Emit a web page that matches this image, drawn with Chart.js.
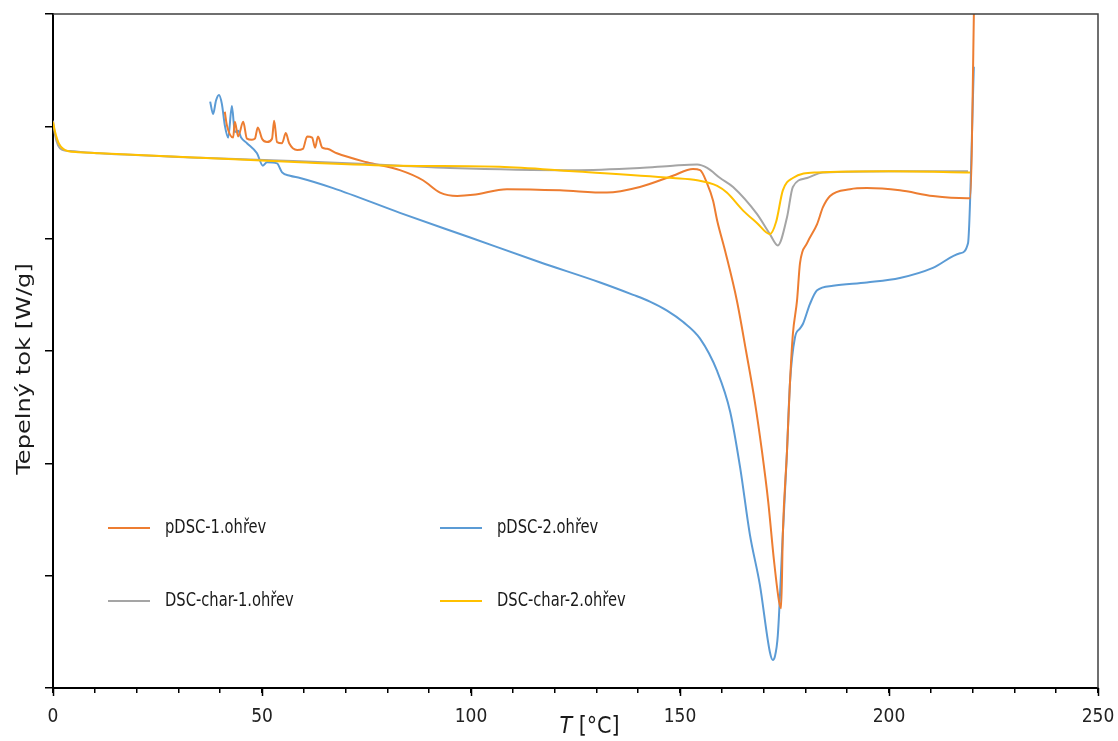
<!DOCTYPE html>
<html>
<head>
<meta charset="utf-8">
<script src="https://cdn.jsdelivr.net/npm/chart.js@4.4.0/dist/chart.umd.min.js"></script>
<style>
  body { margin: 0; background: #fff; }
  #wrap { width: 1118px; height: 741px; position: relative; }
</style>
</head>
<body>
<div id="wrap"><canvas id="dsc"></canvas></div>
<script>
// series labels
const names = ['pDSC-1.ohřev', 'pDSC-2.ohřev', 'DSC-char-1.ohřev', 'DSC-char-2.ohřev'];

// pDSC-1 (orange): temperature and heat flow (arbitrary units, axis has no labels)
const pdsc1T = [41.1, 41.6, 43.1, 43.5, 44.3, 45.5, 46.4, 47.6, 48.3, 49.0, 50.0, 51.2, 52.4, 52.9, 53.6, 54.8, 55.7, 56.5, 58.4, 59.8,
  60.8, 62.0, 62.7, 63.4, 64.4, 65.6, 67.9, 75.1, 83.0, 88.5, 92.6, 96.7, 100.5, 108.6, 121.3, 132.5, 140.4, 148.3, 153.1, 154.8,
  156.5, 157.9, 158.9, 160.8, 163.6, 165.8, 167.9, 169.6, 171.1, 172.5, 173.7, 174.2, 174.6, 175.6, 176.3, 177.0, 178.0, 178.7, 180.4, 182.8,
  184.2, 185.9, 190.7, 194.7, 202.6, 210.5, 218.7, 219.4, 220.3, 220.4];
const pdsc1Q = [5.13, 5.01, 4.90, 5.04, 4.91, 5.04, 4.89, 4.88, 4.89, 4.99, 4.89, 4.86, 4.89, 5.05, 4.86, 4.85, 4.94, 4.85, 4.79, 4.80,
  4.91, 4.90, 4.81, 4.91, 4.81, 4.80, 4.76, 4.68, 4.61, 4.52, 4.41, 4.38, 4.39, 4.44, 4.43, 4.41, 4.46, 4.56, 4.62, 4.61,
  4.49, 4.34, 4.16, 3.89, 3.45, 3.00, 2.55, 2.11, 1.66, 1.13, 0.77, 0.71, 1.37, 2.11, 2.71, 3.15, 3.45, 3.78, 3.96, 4.13,
  4.28, 4.38, 4.44, 4.45, 4.43, 4.38, 4.36, 4.36, 5.99, 6.30];

// pDSC-2 (blue)
const pdsc2T = [37.6, 38.3, 39.0, 39.7, 40.4, 41.1, 41.9, 42.8, 43.5, 44.3, 45.0, 46.4, 48.8, 50.2, 51.2, 53.6, 54.8, 56.7, 59.1, 67.0,
  83.0, 99.8, 116.5, 130.9, 138.8, 142.8, 146.9, 150.7, 154.8, 158.9, 162.0, 164.4, 166.7, 169.1, 171.5, 172.2, 172.7, 173.4, 174.6, 175.6,
  176.3, 177.5, 178.7, 179.4, 181.1, 182.8, 186.6, 194.7, 202.6, 210.5, 217.0, 218.9, 220.3];
const pdsc2Q = [5.22, 5.11, 5.23, 5.28, 5.20, 5.01, 4.90, 5.18, 4.95, 4.96, 4.90, 4.85, 4.76, 4.65, 4.68, 4.67, 4.59, 4.56, 4.54, 4.45,
  4.23, 4.01, 3.79, 3.61, 3.50, 3.44, 3.36, 3.26, 3.11, 2.82, 2.46, 1.96, 1.37, 0.92, 0.32, 0.25, 0.28, 0.47, 1.37, 2.11,
  2.71, 3.12, 3.20, 3.24, 3.42, 3.54, 3.58, 3.61, 3.65, 3.74, 3.87, 3.96, 5.53];

// DSC-char-1 (grey)
const char1T = [0, 0.5, 1.2, 2.2, 4.1, 11.2, 35.2, 59.1, 83.0, 95.0, 124.4, 140.4, 148.3, 154.1, 156.5, 159.6, 162.7, 168.4, 171.5, 173.4,
  175.6, 177.0, 180.4, 184.2, 202.6, 218.9];
const char1Q = [5.05, 4.92, 4.83, 4.79, 4.78, 4.76, 4.72, 4.69, 4.65, 4.63, 4.61, 4.63, 4.65, 4.66, 4.63, 4.54, 4.46, 4.22, 4.04, 3.94,
  4.19, 4.46, 4.54, 4.59, 4.60, 4.60];

// DSC-char-2 (yellow)
const char2T = [0, 0.5, 1.5, 3.5, 6.0, 11.2, 35.2, 59.1, 83.0, 106.9, 124.4, 148.3, 154.1, 158.9, 161.2, 165.1, 168.4, 171.5, 173.0, 174.6,
  177.0, 182.7, 200.0, 219.4];
const char2Q = [5.04, 4.95, 4.84, 4.78, 4.77, 4.76, 4.72, 4.68, 4.65, 4.64, 4.60, 4.54, 4.52, 4.47, 4.41, 4.25, 4.14, 4.04, 4.15, 4.43,
  4.54, 4.59, 4.60, 4.59];

// temperatures that carry a label (and a longer tick)
const majorT = [0, 50, 100, 150, 200, 250];

const colors = ['#ED7D31', '#5B9BD5', '#A5A5A5', '#FFC000'];

function pts(xs, ys) {
  return xs.map((x, i) => ({ x: x, y: ys[i] }));
}

const series = [pts(pdsc1T, pdsc1Q), pts(pdsc2T, pdsc2Q), pts(char1T, char1Q), pts(char2T, char2Q)];
const drawOrder = [2, 3, 1, 0];

const narrow = '"Liberation Sans Narrow", "DejaVu Sans Condensed", "Liberation Sans", sans-serif';

// frame, longer major ticks, legend inside the plot and the axis titles
const extras = {
  id: 'extras',
  afterDraw(chart) {
    const { ctx, chartArea: a } = chart;
    const xs = chart.scales.x;
    ctx.save();
    ctx.strokeStyle = '#404040';
    ctx.lineWidth = 1.5;
    ctx.beginPath();
    ctx.moveTo(a.left, a.top);
    ctx.lineTo(a.right, a.top);
    ctx.lineTo(a.right, a.bottom);
    ctx.stroke();

    ctx.strokeStyle = '#000';
    ctx.lineWidth = 1.5;
    majorT.forEach(v => {
      const px = Math.round(xs.getPixelForValue(v)) + 0.5;
      ctx.beginPath();
      ctx.moveTo(px, a.bottom);
      ctx.lineTo(px, a.bottom + 8);
      ctx.stroke();
    });

    const spots = [[108, 528], [440, 528], [108, 601], [440, 601]];
    ctx.textBaseline = 'middle';
    ctx.textAlign = 'left';
    chart.data.datasets.forEach((ds, i) => {
      const [x, y] = spots[i];
      ctx.strokeStyle = ds.borderColor;
      ctx.lineWidth = 2;
      ctx.beginPath();
      ctx.moveTo(x, y);
      ctx.lineTo(x + 42, y);
      ctx.stroke();
      ctx.save();
      ctx.translate(x + 57, y);
      ctx.scale(0.86, 1);
      ctx.font = '19px ' + narrow;
      ctx.fillStyle = '#1a1a1a';
      ctx.fillText(ds.label, 0, 0);
      ctx.restore();
    });

    // y title, stretched along the text
    ctx.save();
    ctx.translate(25, (a.top + a.bottom) / 2 + 18);
    ctx.rotate(-Math.PI / 2);
    ctx.scale(1.27, 1);
    ctx.font = '19px "DejaVu Sans", sans-serif';
    ctx.textAlign = 'center';
    ctx.fillStyle = '#1a1a1a';
    ctx.fillText('Tepelný tok [W/g]', 0, 0);
    ctx.restore();

    // x title with italic T
    ctx.fillStyle = '#1a1a1a';
    ctx.font = 'italic 23px ' + narrow;
    const t = 'T';
    const rest = ' [°C]';
    const w1 = ctx.measureText(t).width;
    ctx.font = '23px ' + narrow;
    const w2 = ctx.measureText(rest).width;
    const x0 = (a.left + a.right) / 2 + 14 - (w1 + w2) / 2;
    ctx.font = 'italic 23px ' + narrow;
    ctx.fillText(t, x0, 727);
    ctx.font = '23px ' + narrow;
    ctx.fillText(rest, x0 + w1, 727);
    ctx.restore();
  }
};

new Chart(document.getElementById('dsc'), {
  type: 'scatter',
  data: {
    datasets: series.map((d, i) => ({
      label: names[i],
      data: d,
      showLine: true,
      borderColor: colors[i],
      backgroundColor: colors[i],
      borderWidth: 2,
      pointRadius: 0,
      cubicInterpolationMode: 'monotone',
      order: drawOrder[i]
    }))
  },
  options: {
    responsive: true,
    maintainAspectRatio: false,
    animation: false,
    layout: { padding: { top: 14, right: 20, left: 0, bottom: 0 } },
    plugins: {
      legend: { display: false },
      tooltip: { enabled: false }
    },
    scales: {
      x: {
        type: 'linear',
        min: 0,
        max: 250,
        afterFit(scale) {
          scale.height = 53;
          scale.paddingLeft = 0;
          scale.paddingRight = 0;
        },
        border: { color: '#000', width: 2 },
        grid: { drawOnChartArea: false, drawTicks: true, tickLength: 5, color: '#000', lineWidth: 1.5 },
        ticks: {
          stepSize: 10,
          autoSkip: false,
          maxRotation: 0,
          padding: 13,
          color: '#222',
          font: { family: narrow, size: 19 },
          callback: v => (majorT.includes(v) ? v : '')
        }
      },
      y: {
        min: 0,
        max: 6,
        afterFit(scale) { scale.width = 53; },
        border: { color: '#000', width: 2 },
        grid: { drawOnChartArea: false, drawTicks: true, tickLength: 8, color: '#000', lineWidth: 1.5 },
        ticks: { stepSize: 1, display: false }
      }
    }
  },
  plugins: [extras]
});
</script>
</body>
</html>
